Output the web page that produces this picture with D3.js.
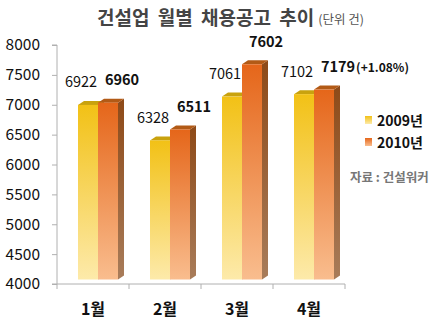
<!DOCTYPE html>
<html><head><meta charset="utf-8">
<script src="https://cdn.jsdelivr.net/npm/d3@7"></script>
<style>body{margin:0;background:#fff}svg{display:block}</style>
</head><body>
<svg id="c" width="430" height="330"></svg>
<script>
const categories = ["1월","2월","3월","4월"];
const seriesNames = ["2009년","2010년"];
const values2009 = [6922,6328,7061,7102];
const values2010 = [6960,6511,7602,7179];
const yTicks = [4000,4500,5000,5500,6000,6500,7000,7500,8000];
const title = "건설업 월별 채용공고 추이";
const unitText = "(단위 건)";
const noteText = "(+1.08%)";
const sourceText = "자료 : 건설워커";

(function(){
const svg = d3.select("#c");
const FONT = "'Noto Sans CJK KR','Noto Sans',sans-serif";
const pL = 57, pR = 345, pT = 45, pB = 284;
const y = d3.scaleLinear().domain([4000,8000]).range([pB, pT]);
const x = d3.scaleBand().domain(categories).range([pL, pR]).paddingInner(0).paddingOuter(0);
const sub = d3.scaleBand().domain([0,1]).range([21, 61]);
const floor = 4.5, dx = 6, dy = 4;

const defs = svg.append("defs");
function grad(id, c1, c2){
  const g = defs.append("linearGradient").attr("id", id).attr("x1",0).attr("y1",0).attr("x2",0).attr("y2",1);
  g.append("stop").attr("offset","0%").attr("stop-color",c1);
  g.append("stop").attr("offset","100%").attr("stop-color",c2);
}
grad("f0","#f2c116","#fdeaaa");
grad("f1","#e5661a","#f9bd8e");
grad("s0","#b89418","#c8b890");
grad("s1","#8e4a18","#a87c5a");
const topCol = ["#c9a20e","#b25a16"];

// axes
svg.append("g").attr("transform",`translate(${pL},0)`)
  .call(d3.axisLeft(y).tickValues(yTicks).tickSize(5).tickFormat(d3.format("d")).tickPadding(12))
  .call(g=>{g.select(".domain").attr("stroke","#b0b0b0").attr("d",`M-5,${pT}H0V${pB}H-5`);
    g.selectAll(".tick line").attr("stroke","#b0b0b0");
    g.selectAll("text").attr("font-family",FONT).attr("font-size",15.5).attr("fill","#111");});
const xg = svg.append("g").attr("transform",`translate(0,${pB})`);
xg.append("line").attr("x1",pL).attr("x2",pR).attr("stroke","#b0b0b0");
const edges = categories.map(c=>x(c)).concat([pR]);
xg.selectAll(".xt").data(edges).join("line").attr("x1",d=>d).attr("x2",d=>d).attr("y1",0).attr("y2",5).attr("stroke","#b0b0b0");
xg.selectAll(".xl").data(categories).join("text")
  .attr("x",d=>x(d)+x.bandwidth()/2).attr("y",31).attr("text-anchor","middle")
  .attr("font-family",FONT).attr("font-size",16).attr("font-weight","bold").attr("fill","#111").text(d=>d);

// bars
const series = [values2009, values2010];
series.forEach((vals, s)=>{
  const g = svg.append("g");
  categories.forEach((c,i)=>{
    const x0 = x(c)+sub(s), w = sub.bandwidth();
    const yt = y(vals[i]) - floor, yb = pB - floor;
    g.append("path").attr("d",`M${x0+w},${yt}L${x0+w+dx},${yt-dy}L${x0+w+dx},${yb-dy}L${x0+w},${yb}Z`).attr("fill",`url(#s${s})`);
    g.append("path").attr("d",`M${x0},${yt}L${x0+dx},${yt-dy}L${x0+w+dx},${yt-dy}L${x0+w},${yt}Z`).attr("fill",topCol[s]);
    g.append("rect").attr("x",x0).attr("y",yt).attr("width",w).attr("height",yb-yt).attr("fill",`url(#f${s})`);
  });
});
// labels
categories.forEach((c,i)=>{
  const x0 = x(c);
  svg.append("text").attr("x",x0+sub(0)+sub.bandwidth()/2-7).attr("y",y(values2009[i])-22)
    .attr("text-anchor","middle").attr("font-family",FONT).attr("font-size",14.5).attr("fill","#111").text(values2009[i]);
  const t = svg.append("text").attr("x",x0+sub(1)+sub.bandwidth()/2+14).attr("y",y(values2010[i])-22)
    .attr("text-anchor","middle").attr("font-family",FONT).attr("font-size",14.5).attr("font-weight","bold").attr("fill","#111").text(values2010[i]);
  if(i===3){
    const bb = t.node().getBBox();
    svg.append("text").attr("x",bb.x+bb.width+1).attr("y",y(values2010[i])-22)
      .attr("font-family",FONT).attr("font-size",12).attr("font-weight","bold").attr("fill","#111").text(noteText);
  }
});

// title
const tt = svg.append("text").attr("x",97).attr("y",25).attr("font-family",FONT).attr("font-size",19).attr("font-weight","bold").attr("word-spacing",4).attr("fill","#444").text(title);
const tb = tt.node().getBBox();
svg.append("text").attr("x",tb.x+tb.width+4).attr("y",24).attr("font-family",FONT).attr("font-size",12.5).attr("fill","#555").text(unitText);

// legend
seriesNames.forEach((n,i)=>{
  const ly = 116 + i*22;
  svg.append("rect").attr("x",365).attr("y",ly).attr("width",7).attr("height",8).attr("fill",`url(#f${i})`);
  svg.append("text").attr("x",377).attr("y",ly+10).attr("font-family",FONT).attr("font-size",14).attr("font-weight","bold").attr("fill","#111").text(n);
});
svg.append("text").attr("x",350).attr("y",182).attr("font-family",FONT).attr("font-size",12.5).attr("font-weight","bold").attr("fill","#777").text(sourceText);
})();
</script>
</body></html>
